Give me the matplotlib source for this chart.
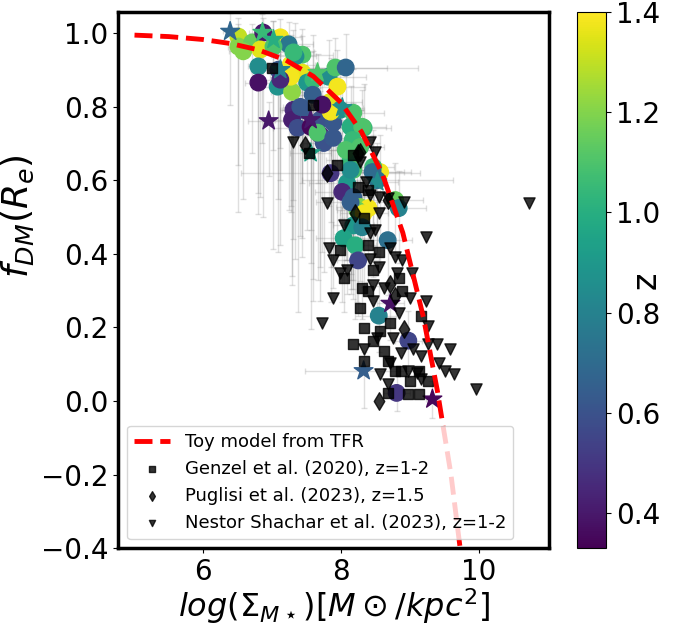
import numpy as np
import matplotlib
import matplotlib.pyplot as plt
from matplotlib.colors import Normalize

# toy model curve
toy_x = [5.0, 5.5, 6.0, 6.4, 6.8, 7.2, 7.6, 8.0, 8.3, 8.6, 8.9, 9.2, 9.4, 9.6, 9.8]
toy_f = [0.994, 0.990, 0.982, 0.971, 0.954, 0.926, 0.882, 0.811, 0.731, 0.618,
         0.457, 0.227, 0.030, -0.200, -0.500]

# colour-coded circles (x = log Sigma, y = fDM, z = redshift)
circ_x = [6.51, 6.51, 6.71, 6.87, 6.83, 7.12, 7.24, 7.02, 6.80, 7.09,
          6.80, 7.08, 7.29, 7.27, 7.44, 7.34, 7.44, 7.51, 7.60, 7.82,
          7.92, 8.07, 7.95, 7.59, 7.85, 7.31, 7.44, 7.29, 7.37, 7.56,
          7.70, 7.89, 7.99, 8.18, 8.33, 8.14, 7.70, 7.75, 7.66, 8.09,
          8.57, 8.47, 8.53, 8.79, 8.14, 8.18, 7.85, 8.09, 8.02, 8.18,
          8.28, 8.40, 7.85, 8.31, 7.89, 8.17, 8.07, 8.28, 8.14, 8.46,
          8.84, 8.24, 8.14, 8.33, 8.18, 8.31, 8.04, 8.21, 8.68, 8.25,
          8.55, 8.98, 8.81, 6.58, 7.27, 7.12, 7.31, 7.73, 7.41]
circ_y = [0.990, 0.963, 0.974, 1.001, 0.955, 0.988, 0.969, 0.963, 0.909, 0.900,
          0.865, 0.854, 0.840, 0.914, 0.941, 0.936, 0.892, 0.865, 0.873, 0.881,
          0.906, 0.906, 0.854, 0.832, 0.813, 0.791, 0.791, 0.764, 0.742, 0.745,
          0.764, 0.756, 0.791, 0.783, 0.742, 0.745, 0.723, 0.701, 0.729, 0.682,
          0.622, 0.636, 0.600, 0.546, 0.655, 0.628, 0.619, 0.592, 0.568, 0.554,
          0.527, 0.524, 0.786, 0.745, 0.715, 0.709, 0.682, 0.690, 0.628, 0.622,
          0.524, 0.518, 0.540, 0.510, 0.477, 0.472, 0.442, 0.423, 0.437, 0.382,
          0.232, 0.164, 0.022, 0.950, 0.881, 0.873, 0.947, 0.805, 0.799]
circ_z = [1.30, 1.20, 1.15, 0.40, 1.35, 1.38, 0.75, 1.10, 0.85, 0.62,
          0.38, 0.88, 1.22, 1.38, 1.10, 0.85, 1.36, 0.90, 1.05, 0.85,
          1.10, 0.68, 1.38, 0.65, 1.35, 0.45, 0.62, 0.42, 0.58, 0.35,
          0.60, 0.62, 0.85, 1.10, 1.05, 1.00, 0.45, 0.60, 1.10, 1.20,
          1.38, 1.05, 0.75, 1.15, 1.05, 1.10, 0.50, 0.90, 0.45, 0.65,
          1.20, 1.38, 1.38, 1.10, 0.62, 1.05, 1.10, 1.10, 0.85, 0.70,
          0.80, 1.15, 0.65, 1.38, 0.90, 0.80, 0.95, 1.00, 0.72, 0.55,
          0.80, 0.55, 0.50, 1.20, 1.38, 0.45, 1.05, 0.38, 0.62]
circ_xerr = [0.10, 0.15, 0.20, 0.10, 0.25, 0.30, 0.35, 0.20, 0.15, 0.40,
             0.20, 0.25, 0.30, 0.35, 0.45, 0.30, 0.40, 0.25, 0.35, 0.55,
             1.20, 0.60, 0.40, 0.30, 0.45, 0.20, 0.30, 0.25, 0.35, 0.30,
             0.40, 0.50, 0.35, 0.45, 0.40, 0.30, 0.25, 0.30, 0.35, 0.40,
             0.45, 0.30, 1.10, 0.40, 0.35, 0.30, 1.30, 0.55, 0.40, 0.30,
             0.35, 0.40, 0.30, 0.35, 0.25, 0.30, 0.40, 0.35, 0.30, 0.45,
             0.40, 0.30, 0.50, 0.35, 0.30, 0.25, 0.40, 0.30, 0.35, 0.30,
             0.25, 0.20, 0.20, 0.20, 0.30, 0.25, 0.30, 0.35, 0.25]
circ_ylo = [0.35, 0.45, 0.30, 0.50, 0.40, 0.30, 0.45, 0.55, 0.40, 0.35,
            0.30, 0.45, 0.50, 0.40, 0.35, 0.55, 0.45, 0.40, 0.60, 0.35,
            0.30, 0.30, 0.40, 0.50, 0.45, 0.35, 0.40, 0.45, 0.50, 0.55,
            0.40, 0.45, 0.30, 0.35, 0.25, 0.40, 0.45, 0.35, 0.40, 0.30,
            0.25, 0.30, 0.20, 0.15, 0.35, 0.30, 0.35, 0.30, 0.30, 0.25,
            0.20, 0.20, 0.30, 0.25, 0.35, 0.30, 0.30, 0.25, 0.30, 0.20,
            0.15, 0.25, 0.25, 0.20, 0.20, 0.25, 0.20, 0.20, 0.15, 0.15,
            0.10, 0.10, 0.05, 0.40, 0.35, 0.45, 0.40, 0.40, 0.35]
circ_yhi = [0.05, 0.06, 0.05, 0.04, 0.06, 0.05, 0.06, 0.07, 0.08, 0.08,
            0.07, 0.09, 0.10, 0.08, 0.07, 0.09, 0.10, 0.10, 0.12, 0.10,
            0.08, 0.09, 0.10, 0.12, 0.12, 0.10, 0.12, 0.11, 0.12, 0.13,
            0.12, 0.13, 0.10, 0.12, 0.12, 0.11, 0.12, 0.12, 0.12, 0.12,
            0.10, 0.10, 0.10, 0.10, 0.11, 0.10, 0.10, 0.10, 0.10, 0.10,
            0.10, 0.10, 0.10, 0.10, 0.10, 0.10, 0.10, 0.10, 0.10, 0.10,
            0.10, 0.10, 0.10, 0.10, 0.10, 0.10, 0.10, 0.10, 0.10, 0.10,
            0.08, 0.08, 0.05, 0.05, 0.08, 0.10, 0.06, 0.10, 0.10]

# colour-coded stars
star_x = [6.39, 6.95, 6.86, 7.02, 7.66, 7.12, 8.02, 7.56, 7.56, 8.53, 8.72, 8.33, 9.33]
star_y = [1.004, 0.761, 1.001, 0.982, 0.892, 0.900, 0.797, 0.764, 0.674, 0.595, 0.265, 0.082, 0.005]
star_z = [0.68, 0.40, 1.05, 1.00, 1.10, 0.80, 0.85, 0.40, 0.95, 0.85, 0.38, 0.65, 0.35]
star_xerr = [0.10, 0.30, 0.20, 0.20, 0.30, 0.20, 0.30, 0.30, 0.30, 0.30, 0.20, 0.85, 0.10]
star_ylo = [0.20, 0.15, 0.30, 0.30, 0.30, 0.30, 0.30, 0.30, 0.30, 0.20, 0.10, 0.10, 0.05]
star_yhi = [0.05, 0.05, 0.05, 0.05, 0.05, 0.05, 0.05, 0.05, 0.05, 0.05, 0.05, 0.05, 0.05]

# Genzel et al. (2020)
gen_x = [7.00, 7.59, 7.53, 8.18, 8.25, 7.95, 8.39, 8.33, 7.99, 8.39,
         8.55, 8.46, 8.04, 8.31, 8.84, 8.89, 8.40, 8.28, 8.33, 8.72,
         9.16, 8.18, 8.62, 8.68, 8.79, 9.01, 9.13, 8.68, 8.98, 9.13,
         9.26, 8.57, 8.46, 8.33, 8.87]
gen_y = [0.906, 0.805, 0.674, 0.668, 0.581, 0.641, 0.573, 0.497, 0.409, 0.423,
         0.404, 0.355, 0.333, 0.306, 0.333, 0.300, 0.300, 0.254, 0.199, 0.213,
         0.232, 0.156, 0.136, 0.109, 0.082, 0.055, 0.082, 0.022, 0.019, 0.019,
         0.055, 0.191, 0.164, 0.109, 0.082]

# Puglisi et al. (2023)
pug_x = [7.48, 8.28, 7.80, 8.68, 8.25, 8.21, 8.72, 8.91, 8.55, 8.79]
pug_y = [0.696, 0.677, 0.619, 0.546, 0.674, 0.510, 0.319, 0.196, 0.000, 0.286]

# Nestor Shachar et al. (2023)
nes_x = [7.31, 8.43, 8.50, 8.28, 8.36, 8.43, 8.55, 8.69, 8.91, 7.80,
         8.55, 8.04, 8.50, 8.43, 9.23, 7.82, 7.89, 8.43, 8.72, 8.79,
         8.89, 7.99, 8.09, 8.55, 8.82, 9.04, 8.47, 8.62, 7.89, 8.46,
         9.01, 9.23, 8.84, 9.26, 7.73, 8.53, 8.75, 8.33, 9.26, 9.40,
         9.59, 9.05, 8.87, 9.16, 9.42, 9.52, 9.64, 8.72, 8.98, 9.11,
         8.57, 9.16, 8.69, 9.96, 10.74]
nes_y = [0.704, 0.704, 0.677, 0.649, 0.595, 0.559, 0.554, 0.551, 0.540, 0.538,
         0.510, 0.477, 0.464, 0.456, 0.445, 0.415, 0.382, 0.387, 0.417, 0.390,
         0.382, 0.349, 0.355, 0.363, 0.347, 0.347, 0.314, 0.306, 0.281, 0.273,
         0.281, 0.273, 0.240, 0.205, 0.213, 0.172, 0.172, 0.142, 0.156, 0.156,
         0.142, 0.142, 0.131, 0.123, 0.104, 0.082, 0.074, 0.104, 0.082, 0.076,
         0.074, 0.060, 0.046, 0.033, 0.537]

z_ticks = [0.4, 0.6, 0.8, 1.0, 1.2, 1.4]

fig = plt.figure(figsize=(6.88, 6.28), dpi=100)
ax = fig.add_axes([0.1715, 0.127, 0.627, 0.854])
cax = fig.add_axes([0.839, 0.127, 0.042, 0.854])

norm = Normalize(vmin=0.33, vmax=1.4)
cmap = matplotlib.colormaps['viridis']

ax.errorbar(circ_x, circ_y, xerr=circ_xerr, yerr=[circ_ylo, circ_yhi], fmt='none',
            ecolor='grey', alpha=0.25, elinewidth=1, capsize=2, zorder=1)
ax.errorbar(star_x, star_y, xerr=star_xerr, yerr=[star_ylo, star_yhi], fmt='none',
            ecolor='grey', alpha=0.25, elinewidth=1, capsize=2, zorder=1)

ax.plot(toy_x, toy_f, '--', color='red', lw=3.5, label='Toy model from TFR', zorder=5)

sc = ax.scatter(circ_x, circ_y, c=circ_z, cmap=cmap, norm=norm, s=140, zorder=2)
ax.scatter(star_x, star_y, c=star_z, cmap=cmap, norm=norm, s=200, marker='*', zorder=3)

ax.scatter(gen_x, gen_y, marker='s', color='k', alpha=0.8, s=55, zorder=4,
           label='Genzel et al. (2020), z=1-2')
ax.scatter(pug_x, pug_y, marker='d', color='k', alpha=0.8, s=80, zorder=4,
           label='Puglisi et al. (2023), z=1.5')
ax.scatter(nes_x, nes_y, marker='v', color='k', alpha=0.8, s=65, zorder=4,
           label='Nestor Shachar et al. (2023), z=1-2')

ax.set_xlim(4.76, 11.03)
ax.set_ylim(-0.4, 1.057)
ax.set_xticks([6, 8, 10])
ax.set_yticks([-0.4, -0.2, 0.0, 0.2, 0.4, 0.6, 0.8, 1.0])
ax.tick_params(labelsize=20)
for sp in ax.spines.values():
    sp.set_linewidth(2.5)

ax.set_xlabel(r'$log(\Sigma_{M\star})[M\odot/kpc^2]$', fontsize=23, labelpad=0)
ax.set_ylabel(r'$f_{DM}(R_e)$', fontsize=26)
ax.yaxis.set_label_coords(-0.19, 0.62)

ax.legend(loc='lower left', fontsize=13, markerscale=0.55)

cb = fig.colorbar(plt.cm.ScalarMappable(norm=norm, cmap=cmap), cax=cax)
cb.set_ticks(z_ticks)
cb.ax.tick_params(labelsize=20)
cb.set_label('z', fontsize=24, labelpad=-22)

fig.savefig('out.png', dpi=100)
